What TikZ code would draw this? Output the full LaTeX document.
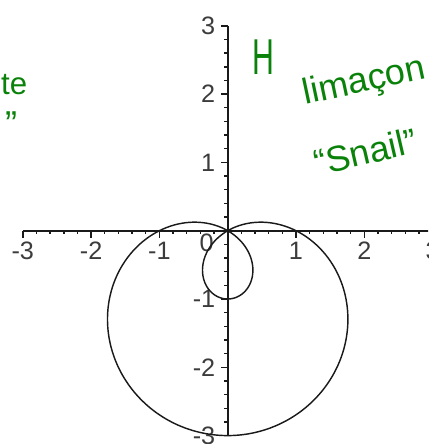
\documentclass[tikz,border=0pt]{standalone}
\usepackage{fontspec}
\setmainfont{Liberation Sans}
\usepackage{tikz}
\definecolor{ink}{HTML}{1A1A1A}
\definecolor{pen}{HTML}{0A820A}

\begin{document}
\begin{tikzpicture}[
  font=\fontsize{10.5}{12}\selectfont,
  axis/.style={ink, line width=0.8pt},
  tick/.style={ink, line width=0.6pt},
  curve/.style={ink, line width=0.6pt},
  num/.style={text=ink!85, inner sep=1pt},
  hand/.style={text=pen, font=\fontsize{15}{18}\selectfont, inner sep=0pt}
]
\clip (-3.334,-3.123) rectangle (2.933,3.378);
% axes and ticks
\draw[axis] (-3,0) -- (3,0);
\draw[axis] (0,-3) -- (0,3);
\foreach \t in {-15,...,15} {
  \draw[tick] (\t/5,0) -- (\t/5,-0.055);
  \draw[tick] (0,\t/5) -- (-0.055,\t/5);
}
\foreach \t in {-3,...,3} {
  \draw[tick] (\t,0) -- (\t,-0.1);
  \draw[tick] (0,\t) -- (-0.1,\t);
}
\foreach \n [count=\k] in {-3,-2,-1,1,2,3} {
  \node[num, anchor=north] (xl\k) at (\n,-0.12) {\n};
  \node[num, anchor=east] (yl\k) at (-0.14,\n) {\n};
}
\node[num] (orig) at (-0.31,-0.18) {0};
% r = 1 - 2 sin(theta)
\draw[curve] plot[domain=0:360, samples=241, smooth, variable=\a]
  ({(1-2*sin(\a))*cos(\a)}, {(1-2*sin(\a))*sin(\a)});
% notes
\node[hand, font=\fontsize{21}{24}\selectfont, xscale=0.6] (h) at (0.53,2.54) {H};
\node[hand, rotate=12] (lim) at (2.0,2.17) {limaçon};
\node[hand, rotate=13] (snail) at (2.02,1.16) {“Snail”};
\node[hand, font=\fontsize{13}{15}\selectfont, anchor=east] (te) at (-2.93,2.14) {te};
\node[hand] (quo) at (-3.17,1.56) {”};
\end{tikzpicture}
\end{document}
